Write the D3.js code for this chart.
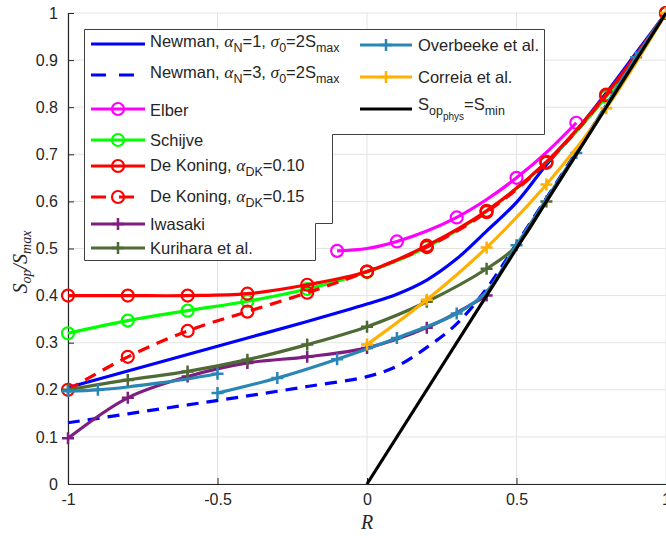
<!DOCTYPE html>
<html>
<head>
<meta charset="utf-8">
<script src="https://cdn.jsdelivr.net/npm/d3@7"></script>
<style>
  body { margin: 0; background: #fff; }
  svg { display: block; }
</style>
</head>
<body>
<div id="chart"></div>
<script>
// ---- data ----
const gridR = [-1, -0.8, -0.6, -0.4, -0.2, 0, 0.2, 0.4, 0.6, 0.8, 1];
const newmanR = [-1, -0.8, -0.6, -0.4, -0.2, 0, 0.1, 0.2, 0.3, 0.4, 0.5, 0.6, 0.7, 0.8, 0.9, 1];
const newman1S = [0.205, 0.240, 0.275, 0.310, 0.345, 0.382, 0.403, 0.433, 0.478, 0.537, 0.598, 0.678, 0.750, 0.830, 0.915, 1.0];
const newman3S = [0.130, 0.149, 0.168, 0.187, 0.207, 0.228, 0.250, 0.290, 0.340, 0.415, 0.510, 0.607, 0.705, 0.803, 0.902, 1.0];
const elberR = [-0.1, 0, 0.1, 0.2, 0.3, 0.4, 0.5, 0.6, 0.7];
const elberS = [0.495, 0.500, 0.515, 0.537, 0.566, 0.604, 0.650, 0.704, 0.767];
const elberMarks = [-0.1, 0.1, 0.3, 0.5, 0.7];
const schijveS = [0.320, 0.347, 0.368, 0.388, 0.414, 0.450, 0.503, 0.579, 0.683, 0.822, 1.0];
const koning10S = [0.400, 0.400, 0.400, 0.404, 0.423, 0.451, 0.506, 0.580, 0.684, 0.827, 1.0];
const koning15S = [0.200, 0.270, 0.325, 0.366, 0.406, 0.451, 0.503, 0.577, 0.682, 0.825, 1.0];
const iwasakiR = [-1, -0.8, -0.6, -0.4, -0.2, 0, 0.2, 0.4];
const iwasakiS = [0.097, 0.183, 0.228, 0.257, 0.270, 0.289, 0.332, 0.400];
const kuriharaR = [-1, -0.8, -0.6, -0.4, -0.2, 0, 0.2, 0.4, 0.5, 0.6, 0.8, 1];
const kuriharaS = [0.200, 0.221, 0.239, 0.264, 0.296, 0.334, 0.387, 0.457, 0.505, 0.600, 0.800, 1.0];
const kuriharaMarks = [-1, -0.8, -0.6, -0.4, -0.2, 0, 0.2, 0.4, 0.6];
const overbeekeR1 = [-1, -0.9, -0.8, -0.7, -0.6, -0.5];
const overbeekeS1 = [0.197, 0.200, 0.206, 0.214, 0.223, 0.234];
const overbeekeMarks1 = [-1, -0.9, -0.5];
const overbeekeR2 = [-0.5, -0.3, -0.1, 0.1, 0.3, 0.4, 0.5, 0.7, 0.9, 1];
const overbeekeS2 = [0.193, 0.225, 0.265, 0.310, 0.362, 0.408, 0.507, 0.703, 0.906, 1.0];
const overbeekeMarks2 = [-0.5, -0.3, -0.1, 0.1, 0.3, 0.5, 0.7, 0.9];
const correiaR = [0, 0.2, 0.4, 0.6, 0.8, 1];
const correiaS = [0.296, 0.391, 0.502, 0.636, 0.798, 1.0];
const sminR = [0, 1];
const sminS = [0, 1];

const xTicks = [-1, -0.5, 0, 0.5, 1];
const yTicks = [0, 0.1, 0.2, 0.3, 0.4, 0.5, 0.6, 0.7, 0.8, 0.9, 1];

function zip(rs, ss) {
    return rs.map(function(r, i) { return { r: r, s: ss[i] }; });
}
function pick(pts, marks) {
    if (!marks) return pts;
    return pts.filter(function(p) {
        return marks.some(function(m) { return Math.abs(m - p.r) < 1e-9; });
    });
}

// series in drawing order (same as legend)
const series = [
    { pts: zip(newmanR, newman1S), color: "#0000ff", dash: null, marker: null },
    { pts: zip(newmanR, newman3S), color: "#0000ff", dash: "12,8", marker: null },
    { pts: zip(elberR, elberS), color: "#ff00ff", dash: null, marker: "o", marks: elberMarks },
    { pts: zip(gridR, schijveS), color: "#00ff00", dash: null, marker: "o" },
    { pts: zip(gridR, koning10S), color: "#ff0000", dash: null, marker: "o" },
    { pts: zip(gridR, koning15S), color: "#ff0000", dash: "12,8", marker: "o" },
    { pts: zip(iwasakiR, iwasakiS), color: "#7e1e80", dash: null, marker: "+" },
    { pts: zip(kuriharaR, kuriharaS), color: "#4e6b35", dash: null, marker: "+", marks: kuriharaMarks },
    { pts: zip(overbeekeR1, overbeekeS1), color: "#2a86b5", dash: null, marker: "+", marks: overbeekeMarks1 },
    { pts: zip(overbeekeR2, overbeekeS2), color: "#2a86b5", dash: null, marker: "+", marks: overbeekeMarks2 },
    { pts: zip(correiaR, correiaS), color: "#ffb000", dash: null, marker: "+" },
    { pts: zip(sminR, sminS), color: "#000000", dash: null, marker: null }
];

// ---- svg setup ----
const W = 666, H = 538;
const svg = d3.select("#chart").append("svg")
    .attr("width", W)
    .attr("height", H);

const x = d3.scaleLinear().domain([-1, 1]).range([68, 666]);
const y = d3.scaleLinear().domain([0, 1]).range([484, 13]);

// grid
svg.append("g").selectAll("line")
    .data(xTicks)
    .join("line")
    .attr("x1", function(d){ return x(d); })
    .attr("x2", function(d){ return x(d); })
    .attr("y1", y(0)).attr("y2", y(1))
    .attr("stroke", "#e3e3e3").attr("stroke-width", 1);
svg.append("g").selectAll("line")
    .data(yTicks)
    .join("line")
    .attr("x1", x(-1)).attr("x2", x(1))
    .attr("y1", function(d){ return y(d); })
    .attr("y2", function(d){ return y(d); })
    .attr("stroke", "#e3e3e3").attr("stroke-width", 1);

// axes (ticks inside, like matlab); plain hyphen for negatives
const fmt = function(d){ return String(+d.toFixed(1)); };
const xAxis = svg.append("g")
    .attr("transform", "translate(0," + y(0) + ")")
    .call(d3.axisBottom(x).tickValues(xTicks).tickSizeInner(-6).tickSizeOuter(0).tickPadding(10).tickFormat(fmt));
const yAxis = svg.append("g")
    .attr("transform", "translate(" + x(-1) + ",0)")
    .call(d3.axisLeft(y).tickValues(yTicks).tickSizeInner(-6).tickSizeOuter(0).tickPadding(10).tickFormat(fmt));
[xAxis, yAxis].forEach(function(a) {
    a.select(".domain").attr("stroke", "#262626").attr("stroke-width", 1.2);
    a.selectAll(".tick line").attr("stroke", "#262626");
    a.selectAll(".tick text")
        .attr("fill", "#262626")
        .style("font-family", "'Liberation Sans', Arial, sans-serif")
        .style("font-size", "16px");
});

// axis labels
svg.append("text")
    .attr("x", x(0)).attr("y", 529)
    .attr("text-anchor", "middle")
    .style("font-family", "'Liberation Serif', 'DejaVu Serif', serif")
    .style("font-style", "italic")
    .style("font-size", "20px")
    .attr("fill", "#262626")
    .text("R");

const ylab = svg.append("text")
    .attr("transform", "translate(27,262) rotate(-90)")
    .attr("text-anchor", "middle")
    .style("font-family", "'Liberation Serif', 'DejaVu Serif', serif")
    .style("font-style", "italic")
    .style("font-size", "20px")
    .attr("fill", "#262626");
ylab.append("tspan").text("S");
ylab.append("tspan").attr("dy", 4).style("font-size", "14px").text("op");
ylab.append("tspan").attr("dy", -4).text("/S");
ylab.append("tspan").attr("dy", 4).style("font-size", "14px").text("max");

// ---- curves ----
const line = d3.line()
    .x(function(d){ return x(d.r); })
    .y(function(d){ return y(d.s); })
    .curve(d3.curveCatmullRom.alpha(0.5));

function drawMarker(g, type, cx, cy, color) {
    if (type === "o") {
        g.append("circle")
            .attr("cx", cx).attr("cy", cy).attr("r", 6)
            .attr("fill", "none").attr("stroke", color).attr("stroke-width", 2.2);
    } else if (type === "+") {
        g.append("path")
            .attr("d", "M" + (cx - 6) + "," + cy + "H" + (cx + 6) + "M" + cx + "," + (cy - 6) + "V" + (cy + 6))
            .attr("stroke", color).attr("stroke-width", 2.5).attr("fill", "none");
    }
}

const plot = svg.append("g");
series.forEach(function(s) {
    const g = plot.append("g");
    g.append("path")
        .datum(s.pts)
        .attr("d", line)
        .attr("fill", "none")
        .attr("stroke", s.color)
        .attr("stroke-width", 3.2)
        .attr("stroke-dasharray", s.dash);
    if (s.marker) {
        pick(s.pts, s.marks).forEach(function(p) {
            drawMarker(g, s.marker, x(p.r), y(p.s), s.color);
        });
    }
});

// ---- legend ----
const lg = svg.append("g");
lg.append("path")
    .attr("d", "M84.5,29.5H544.5V134.5H332.5V223.5H315.5V260.5H84.5Z")
    .attr("fill", "#fff")
    .attr("stroke", "#404040")
    .attr("stroke-width", 1);

const sans = "'Liberation Sans', Arial, sans-serif";
const serif = "'Liberation Serif', 'DejaVu Serif', serif";

function legendSample(x1, x2, ly, s) {
    lg.append("line")
        .attr("x1", x1).attr("x2", x2).attr("y1", ly).attr("y2", ly)
        .attr("stroke", s.color).attr("stroke-width", 3.2)
        .attr("stroke-dasharray", s.dash ? "15,13" : null);
    if (s.marker) drawMarker(lg, s.marker, (x1 + x2) / 2, ly, s.color);
}

function legendText(tx, ty, parts) {
    const t = lg.append("text")
        .attr("x", tx).attr("y", ty)
        .attr("fill", "#262626")
        .style("font-family", sans)
        .style("font-size", "16.5px");
    let level = 0;
    parts.forEach(function(p) {
        const sp = t.append("tspan").text(p.t);
        const lv = p.sub || 0;
        if (lv !== level) sp.attr("dy", (lv - level) * 5);
        level = lv;
        if (lv === 1) sp.style("font-size", "12.5px");
        if (lv === 2) sp.style("font-size", "10px");
        if (p.greek) sp.style("font-family", serif).style("font-style", "italic").style("font-size", "17.5px");
    });
}

const leftRows = [
    { y: 44, s: series[0], base: 3, parts: [{t: "Newman, "}, {t: "\u03b1", greek: true}, {t: "N", sub: 1}, {t: "=1, "}, {t: "\u03c3", greek: true}, {t: "0", sub: 1}, {t: "=2S"}, {t: "max", sub: 1}] },
    { y: 75, s: series[1], base: 3, parts: [{t: "Newman, "}, {t: "\u03b1", greek: true}, {t: "N", sub: 1}, {t: "=3, "}, {t: "\u03c3", greek: true}, {t: "0", sub: 1}, {t: "=2S"}, {t: "max", sub: 1}] },
    { y: 109, s: series[2], base: 7, parts: [{t: "Elber"}] },
    { y: 140, s: series[3], base: 6, parts: [{t: "Schijve"}] },
    { y: 166, s: series[4], base: 5, parts: [{t: "De Koning, "}, {t: "\u03b1", greek: true}, {t: "DK", sub: 1}, {t: "=0.10"}] },
    { y: 197, s: series[5], base: 5, parts: [{t: "De Koning, "}, {t: "\u03b1", greek: true}, {t: "DK", sub: 1}, {t: "=0.15"}] },
    { y: 224, s: series[6], base: 6, parts: [{t: "Iwasaki"}] },
    { y: 248, s: series[7], base: 6, parts: [{t: "Kurihara et al."}] }
];
leftRows.forEach(function(row) {
    legendSample(91, 145, row.y, row.s);
    legendText(150, row.y + row.base, row.parts);
});

const rightRows = [
    { y: 45, s: series[8], base: 6, parts: [{t: "Overbeeke et al."}] },
    { y: 77, s: series[10], base: 6, parts: [{t: "Correia et al."}] },
    { y: 109, s: series[11], base: 1, parts: [{t: "S"}, {t: "op", sub: 1}, {t: "phys", sub: 2}, {t: "=S", sub: 0}, {t: "min", sub: 1}] }
];
rightRows.forEach(function(row) {
    legendSample(360, 412, row.y, row.s);
    legendText(418, row.y + row.base, row.parts);
});
</script>
</body>
</html>
